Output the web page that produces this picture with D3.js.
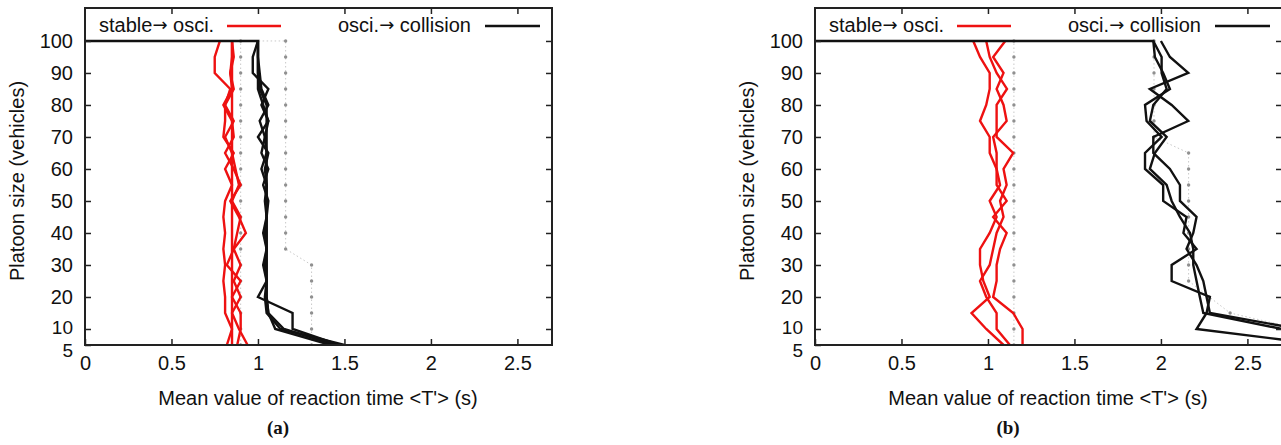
<!DOCTYPE html>
<html>
<head>
<meta charset="utf-8">
<title>Platoon size vs reaction time</title>
<script src="https://cdnjs.cloudflare.com/ajax/libs/d3/7.8.5/d3.min.js"></script>
<style>
body { margin: 0; padding: 0; background: #fff; overflow: hidden; }
text { font-family: "Liberation Sans", Arial, Helvetica, sans-serif; fill: #111; }
.panel-tag { font-family: "Liberation Serif", "Times New Roman", serif; font-weight: bold; }
.arrow { font-family: "DejaVu Sans", sans-serif; }
</style>
</head>
<body>
<svg id="chart" width="1281" height="445"></svg>
<script>
// platoon sizes (vehicles), bottom to top
var levels = [5, 10, 15, 20, 25, 30, 35, 40, 45, 50, 55, 60, 65, 70, 75, 80, 85, 90, 95, 100];
var xTicks = [0, 0.5, 1, 1.5, 2, 2.5];
var yTicks = [5, 10, 20, 30, 40, 50, 60, 70, 80, 90, 100];

// panel (a): stable -> osci. (red)
var aRed1 = [0.82, 0.85, 0.81, 0.81, 0.80, 0.81, 0.80, 0.81, 0.80, 0.81, 0.85, 0.81, 0.86, 0.80, 0.81, 0.81, 0.84, 0.75, 0.75, 0.78];
var aRed2 = [0.88, 0.90, 0.90, 0.85, 0.90, 0.82, 0.86, 0.93, 0.89, 0.84, 0.90, 0.86, 0.81, 0.86, 0.85, 0.80, 0.85, 0.84, 0.85, 0.85];
var aRed3 = [0.94, 0.89, 0.85, 0.90, 0.86, 0.90, 0.86, 0.88, 0.90, 0.85, 0.89, 0.87, 0.85, 0.81, 0.86, 0.81, 0.86, 0.84, 0.86, 0.85];
var aRed4 = [0.85, 0.85, 0.85, 0.85, 0.85, 0.85, 0.85, 0.85, 0.85, 0.85, 0.85, 0.85, 0.85, 0.85, 0.85, 0.85, 0.85, 0.85, 0.85, 0.85];
// panel (a): osci. -> collision (black)
var aBlack1 = [1.50, 1.13, 1.05, 1.04, 1.05, 1.04, 1.05, 1.04, 1.05, 1.04, 1.05, 1.04, 1.06, 1.00, 1.06, 1.02, 1.06, 0.97, 0.97, 1.00];
var aBlack2 = [1.47, 1.20, 1.20, 1.00, 1.05, 1.03, 1.05, 1.03, 1.05, 1.06, 1.03, 1.06, 1.02, 1.04, 1.01, 1.06, 1.02, 1.01, 1.00, 1.00];
var aBlack3 = [1.45, 1.15, 1.06, 1.05, 1.05, 1.05, 1.05, 1.05, 1.05, 1.05, 1.05, 1.02, 1.05, 1.04, 1.06, 1.03, 1.00, 1.00, 1.00, 1.00];
var aBlack4 = [1.42, 1.10, 1.06, 1.05, 1.05, 1.05, 1.05, 1.05, 1.05, 1.05, 1.05, 1.05, 1.05, 1.05, 1.05, 1.05, 1.01, 1.00, 1.00, 1.00];
// panel (a): reference (gray dotted)
var aGray1 = [0.90, 0.90, 0.90, 0.90, 0.90, 0.90, 0.90, 0.90, 0.90, 0.90, 0.90, 0.90, 0.90, 0.90, 0.90, 0.90, 0.90, 0.90, 0.90, 0.90];
var aGray2 = [1.31, 1.31, 1.31, 1.31, 1.31, 1.31, 1.16, 1.16, 1.16, 1.16, 1.16, 1.16, 1.16, 1.16, 1.16, 1.16, 1.16, 1.16, 1.16, 1.16];

// panel (b)
var bRed1 = [1.09, 0.99, 0.905, 1.01, 0.973, 0.954, 0.954, 1.01, 1.05, 1.01, 1.07, 1.05, 1.01, 1.01, 0.954, 0.99, 1.01, 1.01, 0.954, 0.915];
var bRed2 = [1.127, 1.05, 1.05, 0.99, 0.954, 1.01, 1.03, 1.05, 1.09, 1.07, 1.108, 1.09, 1.146, 1.05, 1.05, 1.05, 1.11, 1.05, 1.01, 0.99];
var bRed3 = [1.20, 1.20, 1.146, 1.03, 1.05, 1.05, 1.07, 1.108, 1.03, 1.108, 1.05, 1.05, 1.05, 1.03, 1.108, 1.09, 1.05, 1.09, 1.03, 1.10];
var bBlack1 = [2.95, 2.206, 2.264, 2.283, 2.062, 2.062, 2.206, 2.13, 2.148, 2.013, 2.013, 1.908, 1.908, 2.004, 1.917, 1.908, 2.052, 2.013, 1.965, 1.956];
var bBlack2 = [3.00, 2.80, 2.283, 2.264, 2.245, 2.206, 2.148, 2.187, 2.206, 2.11, 2.11, 2.052, 1.956, 1.956, 2.158, 2.062, 1.936, 2.158, 2.052, 2.00];
var bBlack3 = [2.95, 2.70, 2.245, 2.225, 2.206, 2.187, 2.187, 2.168, 2.11, 2.062, 2.033, 1.936, 1.965, 2.033, 1.936, 1.956, 2.033, 2.004, 2.004, 1.956];
var bGray1 = [1.15, 1.15, 1.15, 1.15, 1.15, 1.15, 1.15, 1.15, 1.15, 1.15, 1.15, 1.15, 1.15, 1.15, 1.15, 1.15, 1.15, 1.15, 1.15, 1.15];
var bGray2 = [3.00, 2.80, 2.40, 2.28, 2.16, 2.16, 2.16, 2.16, 2.16, 2.16, 2.16, 2.16, 2.16, 1.96, 1.96, 1.96, 1.96, 1.96, 1.96, 1.96];

(function(){
    var panels = [
        { tag: "(a)", left: 85, red: [aRed1, aRed2, aRed3, aRed4], black: [aBlack1, aBlack2, aBlack3, aBlack4], gray: [aGray1, aGray2] },
        { tag: "(b)", left: 815, red: [bRed1, bRed2, bRed3], black: [bBlack1, bBlack2, bBlack3], gray: [bGray1, bGray2] }
    ];

    var marginTop = 8, W = 467, H = 337;
    var fs = 20;
    var svg = d3.select("#chart");

    var x = d3.scaleLinear().domain([0, 2.7]).range([0, W]);
    var y = d3.scaleLinear().domain([5, 110.3]).range([H, 0]);

    // join values with platoon sizes; the first black curve starts from the y axis at 100
    function pts(vals, fromAxis) {
        var p = vals.map(function(v, i){ return [v, levels[i]]; });
        if (fromAxis) p.push([0, 100]);
        return p;
    }

    var line = d3.line()
        .x(function(d){ return x(d[0]); })
        .y(function(d){ return y(d[1]); });

    panels.forEach(function(p, pi){
        var g = svg.append("g").attr("transform", "translate(" + p.left + "," + marginTop + ")");

        g.append("clipPath").attr("id", "clip" + pi)
            .append("rect").attr("width", W).attr("height", H);

        var data = g.append("g").attr("clip-path", "url(#clip" + pi + ")");

        // gray reference lines with dot markers
        p.gray.forEach(function(s, si){
            var d = pts(s, si === 1);
            data.append("path").attr("d", line(d))
                .attr("fill", "none").attr("stroke", "#c8c8c8").attr("stroke-width", 1)
                .attr("stroke-dasharray", "1.5,2.5");
            data.selectAll(null).data(pts(s, false)).enter().append("circle")
                .attr("cx", function(d){ return x(d[0]); })
                .attr("cy", function(d){ return y(d[1]); })
                .attr("r", 1.7).attr("fill", "#909090");
        });

        p.red.forEach(function(s){
            data.append("path").attr("d", line(pts(s, false)))
                .attr("fill", "none").attr("stroke", "#ee1111").attr("stroke-width", 2.4);
        });

        p.black.forEach(function(s, si){
            data.append("path").attr("d", line(pts(s, si === 0)))
                .attr("fill", "none").attr("stroke", "#111").attr("stroke-width", 2.4);
        });

        // axes, ticks pointing inward
        var xb = g.append("g").attr("transform", "translate(0," + H + ")")
            .call(d3.axisBottom(x).tickValues(xTicks).tickSizeInner(-6).tickSizeOuter(0).tickPadding(11)
                .tickFormat(function(d){ return String(d); }));
        var xt = g.append("g")
            .call(d3.axisTop(x).tickValues(xTicks.slice(1)).tickSizeInner(-6).tickSizeOuter(0).tickFormat(""));
        var yl = g.append("g")
            .call(d3.axisLeft(y).tickValues(yTicks).tickSizeInner(-6).tickSizeOuter(0).tickPadding(12));
        var yr = g.append("g").attr("transform", "translate(" + W + ",0)")
            .call(d3.axisRight(y).tickValues(yTicks.slice(1)).tickSizeInner(-6).tickSizeOuter(0).tickFormat(""));

        [xb, xt, yl, yr].forEach(function(a){
            a.select(".domain").remove();
            a.selectAll(".tick line").attr("stroke", "#222").attr("stroke-width", 1.5);
            a.selectAll(".tick text").attr("font-size", fs).attr("fill", "#111")
                .style("font-family", "'Liberation Sans', Arial, sans-serif");
        });
        // "10" and "5" sit very close together: tighten them a little
        yl.selectAll(".tick text").filter(function(d){ return d === 5 || d === 10; })
            .attr("font-size", 19);
        yl.selectAll(".tick text").filter(function(d){ return d === 5; }).attr("dy", "0.6em");
        yl.selectAll(".tick text").filter(function(d){ return d === 10; }).attr("dy", "0.22em");

        // frame
        g.append("rect").attr("width", W).attr("height", H)
            .attr("fill", "none").attr("stroke", "#222").attr("stroke-width", 2);

        // legend
        var lg = g.append("g").attr("font-size", fs);
        var t1 = lg.append("text").attr("x", 14).attr("y", 24);
        t1.append("tspan").text("stable");
        t1.append("tspan").attr("class", "arrow").attr("font-size", 18).attr("dy", -1).text("\u2192");
        t1.append("tspan").attr("dy", 1).text(" osci.");
        lg.append("line").attr("x1", 142).attr("x2", 196).attr("y1", 18).attr("y2", 18)
            .attr("stroke", "#ee1111").attr("stroke-width", 2.4);
        var t2 = lg.append("text").attr("x", 253).attr("y", 24);
        t2.append("tspan").text("osci.");
        t2.append("tspan").attr("class", "arrow").attr("font-size", 18).attr("dy", -1).text("\u2192");
        t2.append("tspan").attr("dy", 1).text(" collision");
        lg.append("line").attr("x1", 400).attr("x2", 455).attr("y1", 18).attr("y2", 18)
            .attr("stroke", "#111").attr("stroke-width", 2.4);

        // labels
        g.append("text").attr("x", 233).attr("y", H + 60).attr("text-anchor", "middle")
            .attr("font-size", fs).text("Mean value of reaction time <T'> (s)");
        g.append("text").attr("transform", "translate(" + (-61) + "," + 173 + ") rotate(-90)")
            .attr("text-anchor", "middle").attr("font-size", fs).text("Platoon size (vehicles)");
        g.append("text").attr("class", "panel-tag").attr("x", 193).attr("y", H + 89)
            .attr("text-anchor", "middle").attr("font-size", 19).text(p.tag);
    });
})();
</script>
</body>
</html>
